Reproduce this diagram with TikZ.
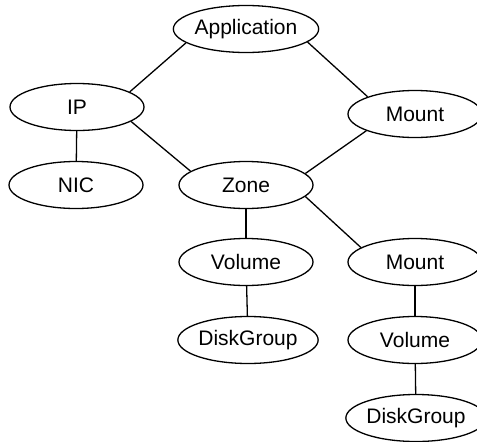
\documentclass[tikz,border=0pt]{standalone}
\usepackage{fontspec}
\setmainfont{Liberation Sans}
\usetikzlibrary{shapes.geometric}
\begin{document}
\begin{tikzpicture}[x=1pt, y=-1pt, line width=1.3pt,
	nodes={draw, ellipse, minimum width=134pt, minimum height=47pt, inner sep=0pt, font=\fontsize{21}{24}\selectfont}]
	\useasboundingbox (0,0) rectangle (477,442);
	\node (app) at (246, 29) {Application};
	\node (ip) at (77, 107) {IP};
	\node (nic) at (76, 185) {NIC};
	\node (mnt) at (415, 114) {Mount};
	\node (zone) at (246, 185) {Zone};
	\node (vol) at (246, 262) {Volume};
	\node (mnt2) at (415, 262) {Mount};
	\node (dg) at (248, 340) {DiskGroup};
	\node (vol2) at (415, 340) {Volume};
	\node (dg2) at (416, 418) {DiskGroup};
	
	\draw  (app.193) -- (ip.16);
	\draw  (app.-12) -- (mnt.160);
	\draw  (ip) -- (nic);
	\draw  (ip.-15) -- (zone.166);
	\draw  (mnt.199) -- (zone.11);
	\draw  (zone) -- (vol);
	\draw  (zone.-11) -- (mnt2.165);
	\draw  (vol) -- (dg);
	\draw  (mnt2) -- (vol2);
	\draw  (vol2) -- (dg2);
	\end{tikzpicture}
\end{document}
